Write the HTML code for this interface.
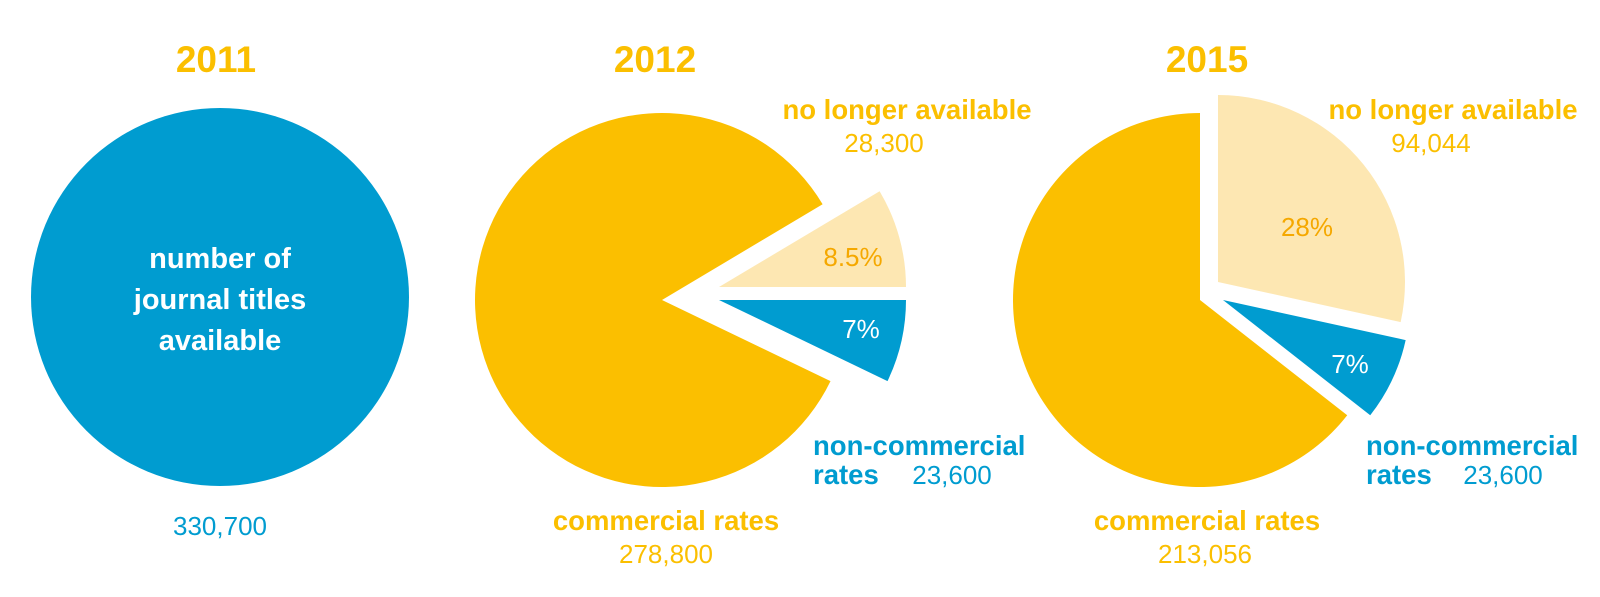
<!DOCTYPE html>
<html><head><meta charset="utf-8"><style>
html,body{margin:0;padding:0;background:#fff}
svg{display:block}
text{font-family:"Liberation Sans",sans-serif}
.t{font-weight:bold;font-size:37px;fill:#FBBF00}
.lb{font-weight:bold;font-size:27.5px}
.nm{font-size:26px}
</style></head><body>
<svg id="c" width="1600" height="597" viewBox="0 0 1600 597">
<circle cx="220" cy="297" r="189" fill="#009CD0"/>
<g id="pies"></g>
<g text-anchor="middle">
<text class="t" x="216" y="72">2011</text>
<text class="t" x="655" y="72">2012</text>
<text class="t" x="1207" y="72">2015</text>
<g class="lb" fill="#fff">
<text x="220" y="268" font-size="29">number of</text>
<text x="220" y="309" font-size="29">journal titles</text>
<text x="220" y="350" font-size="29">available</text>
</g>
<text class="nm" fill="#009CD0" x="220" y="535">330,700</text>
<text class="lb" fill="#FBBF00" x="907" y="119">no longer available</text>
<text class="nm" fill="#FBBF00" x="884" y="152">28,300</text>
<text class="nm" fill="#F5A800" x="853" y="266">8.5%</text>
<text class="nm" fill="#fff" x="861" y="338">7%</text>
<text class="lb" fill="#FBBF00" x="666" y="530">commercial rates</text>
<text class="nm" fill="#FBBF00" x="666" y="563">278,800</text>
<text class="lb" fill="#FBBF00" x="1453" y="119">no longer available</text>
<text class="nm" fill="#FBBF00" x="1431" y="152">94,044</text>
<text class="nm" fill="#F5A800" x="1307" y="236">28%</text>
<text class="nm" fill="#fff" x="1350" y="373">7%</text>
<text class="lb" fill="#FBBF00" x="1207" y="530">commercial rates</text>
<text class="nm" fill="#FBBF00" x="1205" y="563">213,056</text>
</g>
<text class="lb" fill="#009CD0" x="813" y="455">non-commercial</text>
<text class="lb" fill="#009CD0" x="813" y="484">rates</text>
<text class="nm" fill="#009CD0" x="952" y="484" text-anchor="middle">23,600</text>
<text class="lb" fill="#009CD0" x="1366" y="455">non-commercial</text>
<text class="lb" fill="#009CD0" x="1366" y="484">rates</text>
<text class="nm" fill="#009CD0" x="1503" y="484" text-anchor="middle">23,600</text>
</svg>
<script>
const categories = ["no-longer-available","non-commercial","commercial"];
const values2012 = [28300, 23600, 278800];
const values2015 = [94044, 23600, 213056];
const colors = ["#FDE7B2","#009CD0","#FBBF00"];
const R = 187;
const pies = [
  {year:"2012", vals:values2012, start:null, apex:[[719,287],[719,300],[662,300]]},
  {year:"2015", vals:values2015, start:-90, apex:[[1218,282],[1223,300],[1200,300]]}
];
const g = document.getElementById('pies');
function pt(cx,cy,a){const r=a*Math.PI/180;return [cx+R*Math.cos(r),cy+R*Math.sin(r)];}
pies.forEach(p=>{
  const tot = p.vals.reduce((a,b)=>a+b,0);
  const sweeps = p.vals.map(v=>v/tot*360);
  let a = p.start===null ? -sweeps[0] : p.start;
  sweeps.forEach((s,i)=>{
    const [cx,cy]=p.apex[i];
    const p1=pt(cx,cy,a), p2=pt(cx,cy,a+s);
    const el=document.createElementNS('http://www.w3.org/2000/svg','path');
    el.setAttribute('d',`M${cx},${cy}L${p1[0]},${p1[1]}A${R},${R} 0 ${s>180?1:0} 1 ${p2[0]},${p2[1]}Z`);
    el.setAttribute('fill',colors[i]);
    
    
    g.appendChild(el);
    a+=s;
  });
});
</script>
</body></html>
